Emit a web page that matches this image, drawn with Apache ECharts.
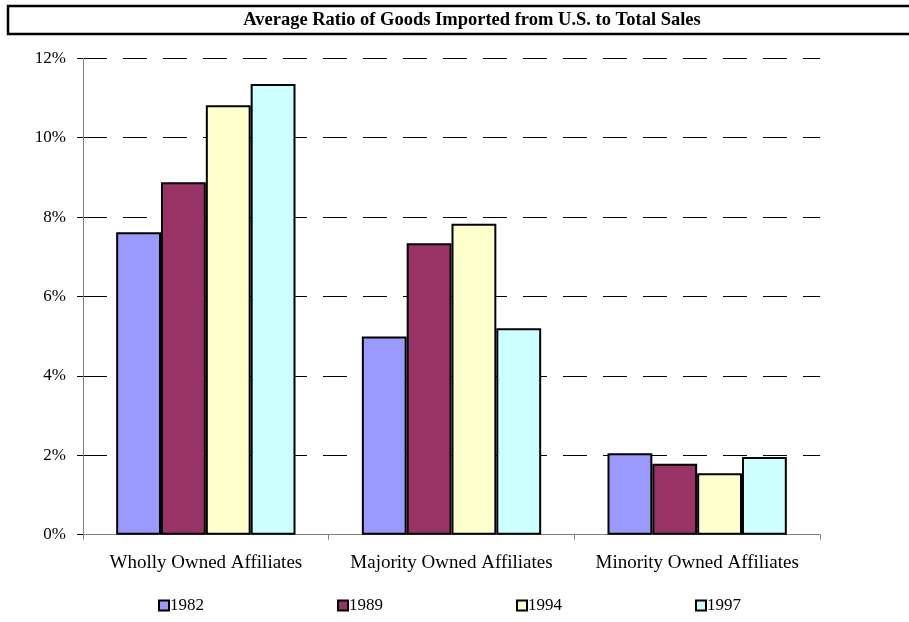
<!DOCTYPE html>
<html>
<head>
<meta charset="utf-8">
<script src="https://cdn.jsdelivr.net/npm/echarts@6/dist/echarts.min.js"></script>
<style>
  html, body { margin: 0; padding: 0; background: #fff; }
  #chart { width: 909px; height: 622px; }
</style>
</head>
<body>
<div id="chart"></div>
<script>
// Affiliate ownership categories
const categories = ['Wholly Owned Affiliates', 'Majority Owned Affiliates', 'Minority Owned Affiliates'];
// Survey years
const years = ['1982', '1989', '1994', '1997'];
// Ratio of goods imported from the U.S. to total sales (percent)
const values1982 = [7.62, 4.99, 2.05];
const values1989 = [8.88, 7.34, 1.79];
const values1994 = [10.82, 7.83, 1.55];
const values1997 = [11.35, 5.20, 1.96];
const seriesValues = [values1982, values1989, values1994, values1997];
const colors = ['#9999FF', '#993366', '#FFFFCC', '#CCFFFF'];

const serif = '"Liberation Serif", "Times New Roman", serif';
const chart = echarts.init(document.getElementById('chart'), null, { renderer: 'canvas' });

// one legend entry per year, spaced evenly across the bottom
const legends = years.map((y, i) => ({
  data: [y],
  left: 153 + 179 * i,
  top: 592,
  itemWidth: 10,
  itemHeight: 10,
  icon: 'rect',
  textStyle: { fontFamily: serif, fontSize: 17, color: '#000', padding: [0, 0, 0, -4] }
}));

chart.setOption({
  animation: false,
  backgroundColor: '#ffffff',
  textStyle: { fontFamily: serif, color: '#000' },
  graphic: [
    {
      type: 'rect',
      shape: { x: 8, y: 6, width: 920, height: 28 },
      style: { fill: 'none', stroke: '#000', lineWidth: 2.5 }
    },
    {
      type: 'text',
      x: 472, y: 20,
      style: {
        text: 'Average Ratio of Goods Imported from U.S. to Total Sales',
        font: 'bold 18.5px ' + serif,
        fill: '#000',
        align: 'center',
        verticalAlign: 'middle'
      }
    }
  ],
  legend: legends,
  grid: { left: 83, right: 89, top: 58.3, bottom: 87.3, containLabel: false },
  xAxis: {
    type: 'category',
    data: categories,
    axisLine: { show: true, lineStyle: { color: '#808080', width: 1 } },
    axisTick: { show: true, interval: 0, length: 5, lineStyle: { color: '#808080' } },
    axisLabel: { interval: 0, hideOverlap: false, fontFamily: serif, fontSize: 19, color: '#000', margin: 19 }
  },
  yAxis: {
    type: 'value',
    min: 0,
    max: 12,
    interval: 2,
    axisLine: { show: true, lineStyle: { color: '#808080', width: 1 } },
    axisTick: { show: true, inside: false, length: 6, lineStyle: { color: '#000' } },
    axisLabel: { fontFamily: serif, fontSize: 17, color: '#000', margin: 17, formatter: '{value}%' },
    splitLine: { show: true, lineStyle: { color: '#000', width: 1, type: [24, 16] } }
  },
  series: years.map((y, i) => ({
    name: y,
    type: 'bar',
    data: seriesValues[i],
    barGap: '0%',
    barCategoryGap: '27%',
    itemStyle: { color: colors[i], borderColor: '#000', borderWidth: 2 }
  }))
});
</script>
</body>
</html>
